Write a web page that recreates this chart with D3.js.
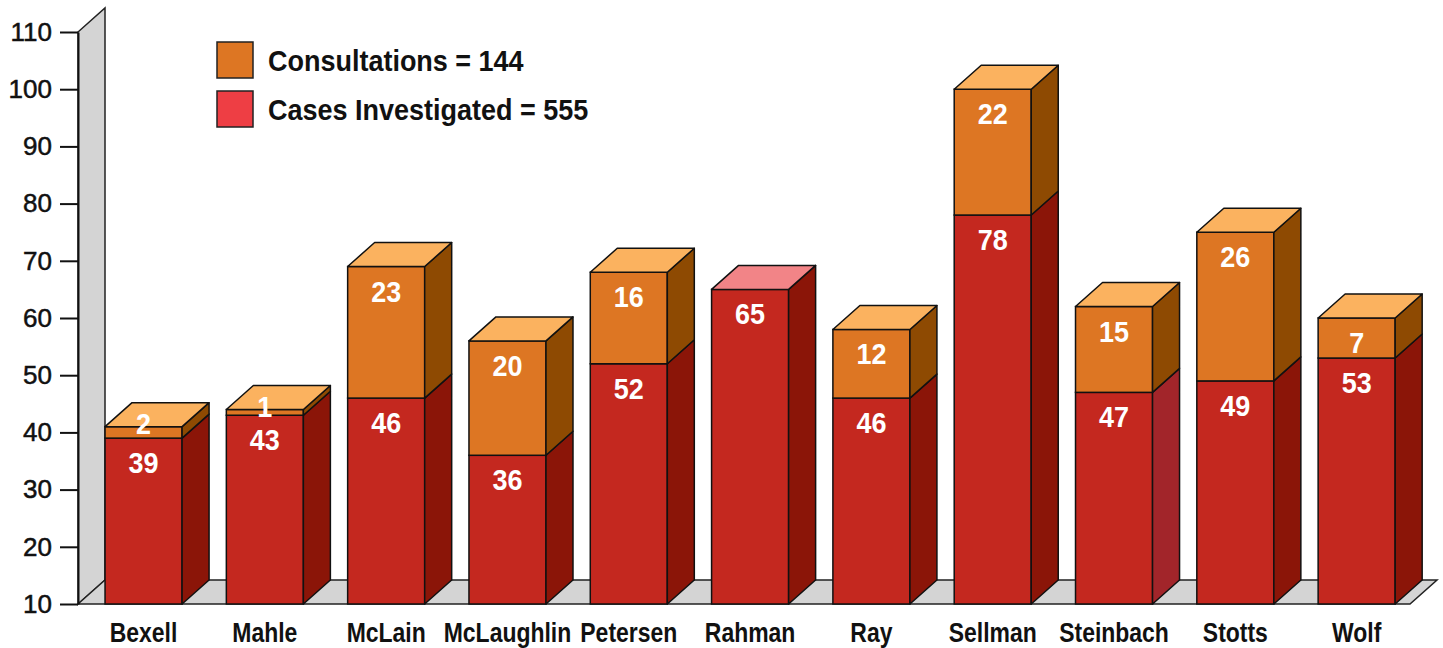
<!DOCTYPE html>
<html>
<head>
<meta charset="utf-8">
<script src="https://cdn.jsdelivr.net/npm/d3@7"></script>
<style>
  body { margin: 0; background: #fff; }
  svg { display: block; }
</style>
</head>
<body>
<div id="chart"></div>
<script>
// data
var names = ["Bexell", "Mahle", "McLain", "McLaughlin", "Petersen", "Rahman",
             "Ray", "Sellman", "Steinbach", "Stotts", "Wolf"];
var cases = [39, 43, 46, 36, 52, 65, 46, 78, 47, 49, 53];
var consults = [2, 1, 23, 20, 16, 0, 12, 22, 15, 26, 7];
var yTicks = [10, 20, 30, 40, 50, 60, 70, 80, 90, 100, 110];
var legendLabels = ["Consultations = 144", "Cases Investigated = 555"];

var width = 1443, height = 648;
var dx = 27, dy = 24;          // 3d depth offset
var axisX = 78, floorRight = 1410;
var font = "'Liberation Sans', Arial, sans-serif";

var col = {
  red: "#c4281f", redSide: "#8b1508", redTop: "#f28487", redSideAlt: "#a2252a",
  org: "#dd7623", orgSide: "#8e4a02", orgTop: "#fbb25f",
  legendRed: "#ee3e44", gray: "#d4d4d4"
};

var svg = d3.select("#chart")
  .append("svg")
    .attr("width", width)
    .attr("height", height);

var y = d3.scaleLinear()
  .domain([10, 110])
  .range([604, 32]);

var x = d3.scaleBand()
  .domain(names)
  .range([83.2, 1417])
  .paddingInner(0.365)
  .paddingOuter(0.18);

var line = d3.line();

// back wall and floor
svg.append("path")
  .attr("d", line([[axisX, y(10)], [axisX, y(110)], [axisX + dx, y(110) - dy], [axisX + dx, y(10) - dy]]) + "Z")
  .attr("fill", col.gray)
  .attr("stroke", "#222")
  .attr("stroke-width", 1.5);

svg.append("path")
  .attr("d", line([[axisX, y(10)], [axisX + dx, y(10) - dy], [floorRight + dx, y(10) - dy], [floorRight, y(10)]]) + "Z")
  .attr("fill", col.gray)
  .attr("stroke", "#222")
  .attr("stroke-width", 1.5);

// y axis
var yAxis = svg.append("g")
  .attr("transform", "translate(" + axisX + ",0)")
  .call(d3.axisLeft(y).tickValues(yTicks).tickSize(18).tickSizeOuter(0).tickPadding(8));
yAxis.select(".domain").attr("stroke", "#111").attr("stroke-width", 2);
yAxis.selectAll(".tick line").attr("stroke", "#111").attr("stroke-width", 2);
yAxis.selectAll(".tick text")
  .attr("fill", "#111")
  .attr("stroke", "#111")
  .attr("stroke-width", 0.5)
  .style("font-family", font)
  .style("font-size", "26px");

// build segments
var segs = [];
names.forEach(function(n, i) {
  var top = cases[i] + consults[i];
  segs.push({name: n, i: i, y0: 10, y1: cases[i], v: cases[i], kind: "red", isTop: consults[i] === 0});
  if (consults[i] > 0) {
    segs.push({name: n, i: i, y0: cases[i], y1: top, v: consults[i], kind: "org", isTop: true});
  }
});

var bars = svg.append("g");
segs.forEach(function(s) {
  var x0 = x(s.name), x1 = x0 + x.bandwidth();
  var yb = y(s.y0), yt = y(s.y1);
  var front = s.kind === "red" ? col.red : col.org;
  var side = s.kind === "red" ? (s.name === "Steinbach" ? col.redSideAlt : col.redSide) : col.orgSide;
  var topc = s.kind === "red" ? col.redTop : col.orgTop;
  var g = bars.append("g");
  g.append("rect")
    .attr("x", x0).attr("y", yt)
    .attr("width", x1 - x0).attr("height", yb - yt)
    .attr("fill", front).attr("stroke", "#111").attr("stroke-width", 1.5);
  g.append("path")
    .attr("d", line([[x1, yt], [x1 + dx, yt - dy], [x1 + dx, yb - dy], [x1, yb]]) + "Z")
    .attr("fill", side).attr("stroke", "#111").attr("stroke-width", 1.5).attr("stroke-linejoin", "round");
  if (s.isTop) {
    g.append("path")
      .attr("d", line([[x0, yt], [x0 + dx, yt - dy], [x1 + dx, yt - dy], [x1, yt]]) + "Z")
      .attr("fill", topc).attr("stroke", "#111").attr("stroke-width", 1.5).attr("stroke-linejoin", "round");
  }
});

// value labels (slightly condensed)
segs.forEach(function(s) {
  var yt = y(s.y1), h = y(s.y0) - yt;
  svg.append("text")
    .attr("transform", "translate(" + (x(s.name) + x.bandwidth() / 2) + "," + (h >= 40 ? yt + 35 : yt + 7) + ") scale(0.9,1)")
    .attr("text-anchor", "middle")
    .attr("fill", "#fff")
    .style("font-family", font)
    .style("font-weight", "bold")
    .style("font-size", "30px")
    .text(s.v);
});

// category labels (condensed)
svg.append("g").selectAll("text")
  .data(names)
  .enter()
  .append("text")
    .attr("transform", function(d) { return "translate(" + (x(d) + x.bandwidth() / 2) + ",642) scale(0.82,1)"; })
    .attr("text-anchor", "middle")
    .attr("fill", "#111")
    .style("font-family", font)
    .style("font-weight", "bold")
    .style("font-size", "28px")
    .text(function(d) { return d; });

// legend
var legend = svg.append("g").attr("transform", "translate(217,42)");
legendLabels.forEach(function(t, i) {
  legend.append("rect")
    .attr("x", 0).attr("y", i * 49)
    .attr("width", 36).attr("height", 36)
    .attr("fill", i === 0 ? col.org : col.legendRed)
    .attr("stroke", "#222").attr("stroke-width", 1.5);
  legend.append("text")
    .attr("transform", "translate(51," + (i * 49 + 29) + ") scale(0.9,1)")
    .attr("fill", "#111")
    .style("font-family", font)
    .style("font-weight", "bold")
    .style("font-size", "30px")
    .text(t);
});
</script>
</body>
</html>
